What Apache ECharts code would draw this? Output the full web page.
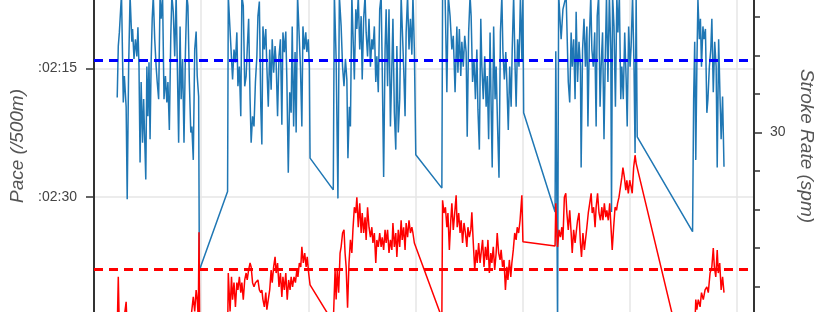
<!DOCTYPE html>
<html>
<head>
<meta charset="utf-8">
<script src="https://cdn.jsdelivr.net/npm/echarts@6/dist/echarts.min.js"></script>
<style>
html,body{margin:0;padding:0;background:#fff;}
#chart{width:818px;height:312px;}
</style>
</head>
<body>
<div id="chart"></div>
<script>
// elapsed time (s), pace (s per 500m)
const paceSamples = [
[65,138.4],[68,132.4],[71,130.8],[77,126.3],[82,139.0],[85,135.9],[90,139.5],[93,150.3],[97,134.8],[101,126.5],[106,131.9],[108,130.4],[112,133.9],[116,131.6],[120,133.6],[123,130.2],[126,134.8],[129,146.0],[132,136.6],[136,143.7],[139,138.6],[142,143.3],[145,148.0],[148,134.8],[151,140.6],[154,134.3],[157,143.3],[160,134.3],[163,129.2],[166,126.5],[170,131.6],[174,134.8],[177,136.6],[181,138.6],[185,126.5],[188,129.2],[192,126.5],[196,138.6],[200,135.9],[204,139.0],[207,136.6],[211,142.2],[215,131.2],[218,126.5],[222,128.4],[226,133.6],[230,126.5],[233,133.9],[237,143.7],[241,130.1],[244,138.6],[248,133.9],[252,143.7],[256,133.1],[260,126.5],[263,127.7],[267,136.6],[271,142.5],[274,141.8],[278,145.7],[282,132.8],[286,130.7],[289,135.9],[293,138.3],[295,158.6],
[374,149.4],
[376,126.5],[381,126.3],[388,136.3],[392,132.8],[396,134.3],[400,130.8],[403,137.1],[407,134.8],[411,140.6],[414,126.5],[418,127.7],[422,137.1],[426,135.9],[429,132.8],[433,129.2],[437,138.6],[440,143.7],[444,140.6],[448,141.8],[452,136.6],[456,133.6],[459,128.9],[463,127.2],[467,139.5],[470,143.9],[473,130.1],[477,132.8],[481,130.4],[484,134.8],[488,139.5],[492,132.8],[496,137.5],[499,131.6],[503,135.5],[507,132.4],[510,134.3],[514,140.6],[518,133.6],[522,131.6],[526,141.6],[529,130.8],[533,133.1],[537,130.7],[540,136.3],[544,147.2],[548,137.8],[552,140.2],[555,130.1],[559,141.8],[563,133.1],[566,142.5],[570,126.5],[574,126.3],[578,134.8],[582,141.8],[585,130.1],[589,132.8],[593,130.8],[596,133.1],[600,131.6],[603,134.8],[605,145.5],
[670,149.2],
[673,126.3],[678,133.9],[683,150.2],[687,126.5],[692,130.1],[696,134.8],[700,137.1],[704,133.9],[708,136.3],[711,145.5],[715,139.5],[718,141.8],[722,126.5],[725,130.8],[729,136.3],[733,128.1],[736,130.4],[740,126.5],[744,132.8],[748,128.9],[751,136.3],[755,129.2],[759,126.5],[762,130.8],[766,133.6],[770,129.2],[774,134.8],[778,131.6],[781,132.8],[785,130.1],[789,136.6],[792,133.6],[796,137.8],[800,128.1],[804,126.5],[807,134.8],[811,147.7],[815,132.8],[818,128.1],[822,137.1],[826,128.1],[830,141.8],[834,134.8],[837,129.2],[841,140.2],[845,144.5],[848,132.4],[852,142.5],[856,138.6],[860,126.5],[863,130.1],[867,134.8],[871,140.6],[874,130.8],[878,126.5],[882,132.8],[886,129.2],[890,133.4],[893,126.5],[897,132.8],[901,145.1],
[974,149.0],
[976,126.5],[983,126.3],[988,137.8],[992,126.5],[997,128.9],[1002,132.8],[1006,131.2],[1011,137.8],[1016,130.1],[1019,135.5],[1023,130.4],[1027,135.9],[1030,131.9],[1034,134.8],[1038,131.2],[1042,133.1],[1045,143.0],[1049,130.8],[1053,126.5],[1056,128.9],[1060,136.6],[1064,133.9],[1068,138.6],[1072,132.8],[1075,139.8],[1079,144.5],[1083,129.2],[1086,134.8],[1090,138.6],[1094,133.6],[1098,139.5],[1101,135.9],[1105,143.3],[1109,130.8],[1112,139.5],[1115,146.6],[1119,130.1],[1123,138.6],[1126,134.8],[1130,141.8],[1134,147.8],[1138,130.8],[1142,126.5],[1145,133.1],[1149,136.3],[1153,133.1],[1156,136.6],[1160,142.2],[1164,134.8],[1168,139.5],[1171,132.8],[1175,126.5],[1179,134.8],[1182,139.5],[1186,131.6],[1190,134.8],[1194,126.5],[1198,133.9],[1201,126.5],[1203,140.2],
[1291,151.8],
[1293,133.0],[1296,150.4],[1298,165.7],[1301,126.3],[1308,131.6],[1313,128.1],[1322,126.5],[1328,136.6],[1332,139.0],[1336,130.8],[1339,134.8],[1343,131.6],[1347,138.6],[1350,128.4],[1354,136.6],[1358,131.9],[1362,134.8],[1364,146.6],[1368,132.8],[1372,129.2],[1376,134.8],[1380,130.1],[1383,141.8],[1387,131.6],[1391,126.5],[1394,132.8],[1398,134.8],[1402,130.8],[1406,141.8],[1409,128.9],[1413,126.5],[1417,139.5],[1420,134.8],[1424,130.8],[1428,143.3],[1432,132.8],[1435,126.5],[1439,136.6],[1443,126.5],[1447,132.8],[1449,151.8],[1452,126.5],[1456,130.1],[1460,139.5],[1464,126.5],[1467,130.8],[1471,126.5],[1475,138.6],[1478,134.8],[1482,138.6],[1486,130.8],[1490,136.3],[1493,141.8],[1497,130.1],[1501,134.8],[1504,132.4],[1508,126.5],[1512,134.8],[1515,144.9],[1518,126.5],[1521,143.0],
[1676,154.1],
[1679,138.6],[1682,131.9],[1685,145.7],[1688,134.8],[1691,126.9],[1695,131.6],[1698,129.2],[1701,134.8],[1705,130.1],[1708,131.6],[1712,130.4],[1716,140.2],[1719,138.6],[1723,134.8],[1727,132.8],[1730,129.2],[1734,137.8],[1738,131.9],[1742,134.8],[1745,146.6],[1749,131.6],[1753,138.6],[1756,143.3],[1760,138.3],[1764,146.5]
];

// elapsed time (s), stroke rate (spm)
const rateSamples = [
[65,24.88],[68,26.25],[71,24.88],[77,24.62],[82,25.01],[90,25.60],[93,24.88],[101,24.7],[112,24.5],[126,24.8],[140,24.6],[157,24.7],[174,24.5],[192,24.8],[211,24.6],[233,24.7],[252,24.8],[267,24.9],[271,25.14],[278,25.73],[282,25.35],[286,25.91],[289,25.66],[292,25.19],[294,27.41],[296,24.88],
[374,24.62],
[376,26.35],[381,25.35],[385,26.25],[388,25.66],[392,26.10],[396,25.47],[400,26.10],[403,25.91],[407,26.25],[411,25.84],[414,26.10],[418,25.66],[422,26.17],[426,26.35],[429,26.17],[433,26.43],[437,26.61],[440,26.51],[444,26.10],[448,25.99],[452,26.10],[456,26.10],[459,26.17],[463,25.91],[467,25.84],[470,25.91],[473,25.66],[477,25.47],[481,25.84],[484,25.40],[488,25.66],[492,25.91],[496,26.43],[499,26.10],[503,26.51],[507,26.77],[510,26.35],[514,26.61],[518,25.99],[522,26.35],[526,25.73],[529,26.25],[533,25.91],[537,26.35],[541,25.66],[545,26.17],[549,25.91],[552,26.25],[556,25.99],[560,26.25],[564,26.10],[568,26.43],[571,26.25],[575,26.61],[579,26.51],[582,27.03],[586,26.61],[590,26.87],[594,26.51],[597,26.77],[601,26.35],[605,26.04],
[670,25.06],
[675,26.43],[678,25.66],[681,26.43],[685,25.84],[689,26.87],[692,27.03],[696,27.39],[700,27.47],[703,26.87],[706,26.51],[710,25.45],[714,26.61],[718,27.21],[722,26.87],[725,27.47],[729,28.06],[733,27.91],[736,28.32],[740,27.54],[744,28.16],[748,27.39],[751,27.91],[755,27.39],[759,27.80],[762,27.21],[766,28.06],[770,27.54],[774,27.28],[778,27.54],[781,27.13],[785,27.39],[789,26.61],[792,27.21],[796,27.03],[800,27.39],[804,27.03],[807,27.28],[811,26.95],[815,27.47],[818,27.13],[822,27.47],[826,26.87],[830,27.21],[834,26.95],[837,27.65],[841,27.03],[845,27.39],[848,26.77],[852,27.47],[856,27.03],[860,27.72],[863,27.21],[867,27.54],[871,26.95],[874,27.65],[878,27.28],[882,27.72],[886,27.39],[890,27.54],[893,27.39],[897,27.13],
[974,25.19],
[976,28.24],[980,27.91],[984,28.06],[988,27.54],[991,27.91],[995,26.95],[999,27.72],[1002,28.16],[1006,27.47],[1010,27.91],[1014,28.37],[1017,27.54],[1021,27.91],[1025,27.39],[1028,27.72],[1032,27.13],[1036,27.65],[1040,27.39],[1044,27.03],[1047,27.54],[1051,27.28],[1055,27.47],[1058,27.93],[1062,27.13],[1066,26.43],[1070,26.95],[1073,26.61],[1077,27.13],[1081,26.61],[1084,26.87],[1088,27.21],[1092,26.51],[1096,27.03],[1100,26.69],[1103,27.21],[1107,26.35],[1111,26.87],[1114,26.61],[1118,27.03],[1122,26.43],[1126,26.87],[1129,27.39],[1133,26.87],[1137,26.69],[1140,26.95],[1144,26.51],[1148,26.69],[1152,25.91],[1156,26.51],[1159,26.17],[1163,26.69],[1167,26.25],[1170,26.61],[1174,26.95],[1178,27.39],[1182,27.21],[1185,27.54],[1189,27.39],[1193,27.72],[1198,28.37],[1201,27.16],
[1291,27.05],
[1293,28.16],[1296,27.39],[1298,27.03],[1302,27.47],[1306,27.28],[1310,27.54],[1313,27.21],[1317,28.32],[1321,28.42],[1324,27.91],[1328,27.47],[1332,27.98],[1336,27.39],[1339,26.87],[1343,27.47],[1347,27.13],[1350,27.39],[1354,27.72],[1358,27.91],[1362,27.13],[1365,26.77],[1369,27.39],[1373,26.95],[1377,27.28],[1380,27.54],[1384,27.91],[1388,28.16],[1392,28.42],[1395,27.91],[1399,28.06],[1403,27.54],[1406,28.06],[1410,28.42],[1414,27.91],[1418,27.72],[1422,28.06],[1425,27.72],[1429,28.16],[1433,27.80],[1436,27.98],[1440,27.72],[1444,28.16],[1448,27.47],[1451,26.95],[1455,27.54],[1459,28.06],[1463,27.98],[1466,28.16],[1470,28.32],[1474,28.58],[1478,28.84],[1481,29.09],[1485,28.84],[1489,28.50],[1492,28.76],[1496,28.42],[1500,28.76],[1504,28.58],[1507,28.42],[1511,29.09],[1515,29.41],[1518,29.20],
[1676,23.07],
[1681,24.62],[1685,25.66],[1688,25.40],[1692,25.66],[1697,25.47],[1701,25.84],[1706,25.66],[1711,25.91],[1716,25.99],[1720,25.84],[1725,26.35],[1730,26.51],[1734,27.00],[1737,26.51],[1741,26.25],[1745,26.95],[1748,26.35],[1752,26.61],[1756,25.91],[1760,26.25],[1764,25.84]
];

const paceAverage = 134.1;   // :02:14.1
const rateAverage = 26.46;
const paceTicks = [120, 135, 150, 165];
const rateTicks = [25, 30, 35];

function fmtPace(v) {
  const m = Math.floor(v / 60);
  const s = Math.round(v - m * 60);
  return ':0' + m + ':' + (s < 10 ? '0' + s : s);
}

const FONT = "'Liberation Sans', Arial, Helvetica, sans-serif";
const chart = echarts.init(document.getElementById('chart'), null, {renderer: 'canvas'});
chart.setOption({
  animation: false,
  backgroundColor: '#ffffff',
  grid: {left: 94, right: 64, top: -60, bottom: -13, containLabel: false, outerBoundsMode: 'none'},
  xAxis: {
    type: 'value', min: 0, max: 1848, interval: 300,
    axisLine: {show: false}, axisTick: {show: false}, axisLabel: {show: false},
    splitLine: {show: true, lineStyle: {color: '#e6e6e6', width: 1.5}}
  },
  yAxis: [{
    type: 'value', inverse: true,
    min: paceTicks[0], max: paceTicks[paceTicks.length - 1], interval: 15,
    position: 'left',
    axisLine: {show: true, lineStyle: {color: '#333', width: 2}},
    axisTick: {show: true, length: 8, lineStyle: {color: '#333', width: 1.5}},
    axisLabel: {color: '#444', fontSize: 14, fontFamily: FONT, margin: 17, formatter: fmtPace},
    splitLine: {show: true, lineStyle: {color: '#e6e6e6', width: 1.5}},
    name: 'Pace (/500m)', nameLocation: 'middle', nameGap: 66, nameRotate: 90,
    nameTextStyle: {fontStyle: 'italic', fontSize: 19, color: '#555', fontFamily: FONT, padding: [0, 27, 0, 0]}
  }, {
    type: 'value',
    min: rateTicks[0], max: rateTicks[rateTicks.length - 1], interval: 5,
    position: 'right',
    axisLine: {show: true, lineStyle: {color: '#333', width: 2}},
    axisTick: {show: true, length: 8, lineStyle: {color: '#333', width: 1.5}},
    minorTick: {show: true, splitNumber: 5, length: 6, lineStyle: {color: '#333', width: 1.5}},
    axisLabel: {color: '#444', fontSize: 14, fontFamily: FONT, margin: 16},
    splitLine: {show: false}, minorSplitLine: {show: false},
    name: 'Stroke Rate (spm)', nameLocation: 'middle', nameGap: 35, nameRotate: -90,
    nameTextStyle: {fontStyle: 'italic', fontSize: 19, color: '#555', fontFamily: FONT, padding: [0, 0, 0, 27]}
  }],
  series: [{
    name: 'Pace', type: 'line', yAxisIndex: 0, data: paceSamples,
    showSymbol: false, symbol: 'none', lineStyle: {color: '#1f77b4', width: 1.5}, z: 2,
    markLine: {silent: true, symbol: ['none', 'none'], label: {show: false},
      lineStyle: {color: '#0000ff', type: [9, 6], width: 3}, data: [{yAxis: paceAverage}]}
  }, {
    name: 'Stroke Rate', type: 'line', yAxisIndex: 1, data: rateSamples,
    showSymbol: false, symbol: 'none', lineStyle: {color: '#ff0000', width: 1.5}, z: 3,
    markLine: {silent: true, symbol: ['none', 'none'], label: {show: false},
      lineStyle: {color: '#ff0000', type: [9, 6], width: 3}, data: [{yAxis: rateAverage}]}
  }]
});
</script>
</body>
</html>
